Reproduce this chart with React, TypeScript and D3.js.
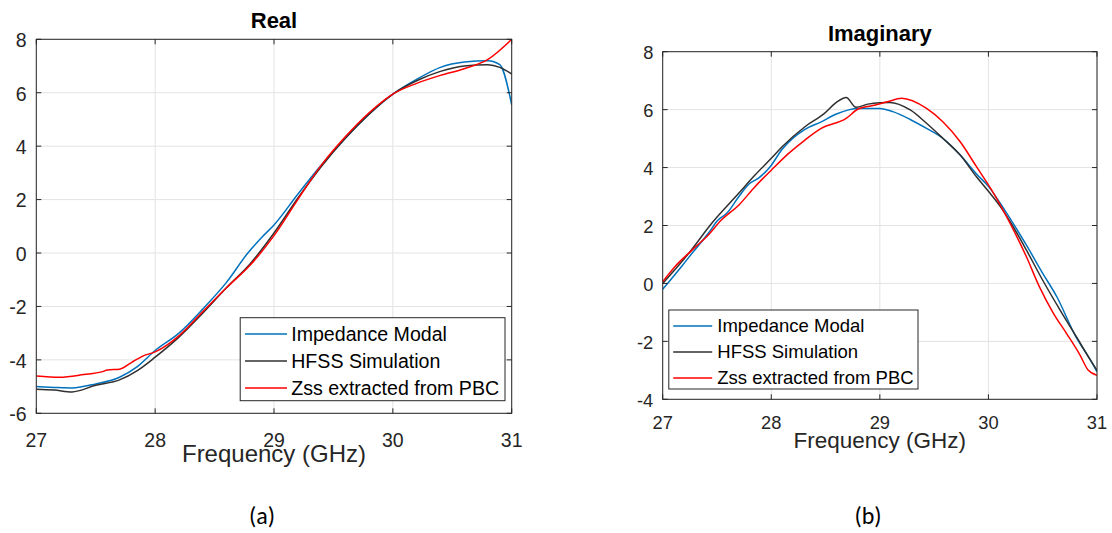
import React from "react";
import * as d3 from "d3";

// ---------- data ----------
const xTicks = [27, 28, 29, 30, 31];
const realYTicks = [-6, -4, -2, 0, 2, 4, 6, 8];
const imagYTicks = [-4, -2, 0, 2, 4, 6, 8];
const seriesNames = ["Impedance Modal", "HFSS Simulation", "Zss extracted from PBC"];
const seriesColors = ["#0072BD", "#303030", "#FF0000"];

const realModal: [number, number][] = [
  [27.0, -5.0], [27.15, -5.03], [27.3, -5.05], [27.5, -4.9], [27.7, -4.65], [27.85, -4.25],
  [28.0, -3.65], [28.2, -3.0], [28.4, -2.1], [28.6, -1.1], [28.78, 0.0], [28.9, 0.6],
  [29.0, 1.05], [29.2, 2.2], [29.4, 3.3], [29.6, 4.3], [29.8, 5.2], [30.0, 5.95],
  [30.2, 6.5], [30.4, 6.95], [30.6, 7.15], [30.8, 7.2], [30.9, 7.05], [31.0, 5.55],
];
const realHfss: [number, number][] = [
  [27.0, -5.1], [27.15, -5.13], [27.3, -5.2], [27.5, -4.95], [27.7, -4.75], [27.85, -4.4],
  [28.0, -3.9], [28.2, -3.15], [28.4, -2.25], [28.6, -1.3], [28.8, -0.4], [29.0, 0.75],
  [29.2, 2.05], [29.4, 3.25], [29.6, 4.3], [29.8, 5.2], [30.0, 5.95], [30.2, 6.45],
  [30.4, 6.8], [30.6, 7.0], [30.8, 7.05], [30.9, 6.95], [31.0, 6.7],
];
const realZss: [number, number][] = [
  [27.0, -4.6], [27.2, -4.65], [27.4, -4.55], [27.55, -4.45], [27.6, -4.38], [27.7, -4.35],
  [27.8, -4.1], [27.9, -3.85], [28.0, -3.7], [28.2, -3.1], [28.4, -2.2], [28.6, -1.3],
  [28.8, -0.45], [29.0, 0.65], [29.2, 2.0], [29.4, 3.3], [29.6, 4.35], [29.8, 5.25],
  [30.0, 5.95], [30.2, 6.35], [30.4, 6.65], [30.6, 6.9], [30.8, 7.25], [31.0, 8.0],
];

const imagModal: [number, number][] = [
  [27.0, -0.2], [27.17, 0.57], [27.27, 1.04], [27.42, 1.73], [27.51, 2.19], [27.59, 2.42],
  [27.7, 2.99], [27.8, 3.45], [27.88, 3.63], [27.99, 4.03], [28.1, 4.63], [28.31, 5.32],
  [28.46, 5.58], [28.6, 5.85], [28.8, 6.04], [29.0, 6.04], [29.12, 5.93], [29.28, 5.66],
  [29.43, 5.35], [29.58, 5.01], [29.74, 4.43], [29.89, 3.78], [30.0, 3.35], [30.15, 2.53],
  [30.35, 1.32], [30.5, 0.35], [30.63, -0.46], [30.8, -1.8], [30.94, -2.65], [31.0, -3.05],
];
const imagHfss: [number, number][] = [
  [27.0, 0.0], [27.24, 1.04], [27.45, 2.07], [27.7, 3.11], [27.85, 3.74], [28.0, 4.32],
  [28.1, 4.72], [28.31, 5.41], [28.49, 5.87], [28.6, 6.25], [28.69, 6.42], [28.78, 6.08],
  [28.89, 6.19], [29.0, 6.24], [29.09, 6.25], [29.28, 5.99], [29.43, 5.53], [29.58, 5.01],
  [29.74, 4.43], [29.89, 3.68], [30.0, 3.18], [30.11, 2.65], [30.2, 2.13], [30.35, 1.15],
  [30.5, 0.11], [30.66, -0.92], [30.81, -1.84], [30.94, -2.65], [31.0, -3.0],
];
const imagZss: [number, number][] = [
  [27.0, 0.06], [27.11, 0.57], [27.27, 1.15], [27.42, 1.67], [27.54, 2.19], [27.7, 2.7],
  [27.85, 3.34], [28.0, 3.91], [28.16, 4.49], [28.31, 4.95], [28.46, 5.35], [28.69, 5.7],
  [28.8, 6.02], [28.96, 6.16], [29.07, 6.27], [29.2, 6.39], [29.43, 6.04], [29.58, 5.58],
  [29.74, 4.89], [29.89, 4.03], [30.03, 3.22], [30.2, 2.07], [30.35, 0.92], [30.47, -0.12],
  [30.6, -1.04], [30.72, -1.73], [30.84, -2.45], [30.92, -3.0], [31.0, -3.17],
];

// ---------- panel ----------
type PanelProps = {
  left: number; right: number; top: number; bottom: number;
  yDomain: [number, number]; yTicks: number[];
  series: [number, number][][];
  title: string; titleY: number;
  tickFont: number; xTickY: number; yTickX: number;
  labelFont: number; labelY: number;
  legend: { x: number; y: number; w: number; h: number; rowY: number[]; font: number; lineX1: number; lineX2: number; textX: number };
};

function Panel(p: PanelProps) {
  const x = d3.scaleLinear().domain([27, 31]).range([p.left, p.right]);
  const y = d3.scaleLinear().domain(p.yDomain).range([p.bottom, p.top]);
  const line = d3.line<[number, number]>().x(d => x(d[0])).y(d => y(d[1])).curve(d3.curveMonotoneX);
  const axisColor = "#262626";
  const cx = (p.left + p.right) / 2;
  const tl = 5;
  return (
    <g fontFamily="'Liberation Sans', Arial, Helvetica, sans-serif">
      {xTicks.map(t => (
        <line key={"gx" + t} x1={x(t)} x2={x(t)} y1={p.top} y2={p.bottom} stroke="#e3e3e3" strokeWidth={1} />
      ))}
      {p.yTicks.map(t => (
        <line key={"gy" + t} x1={p.left} x2={p.right} y1={y(t)} y2={y(t)} stroke="#e3e3e3" strokeWidth={1} />
      ))}
      <clipPath id={"clip" + p.title}>
        <rect x={p.left} y={p.top - 2} width={p.right - p.left} height={p.bottom - p.top + 4} />
      </clipPath>
      <g clipPath={`url(#clip${p.title})`}>
        {p.series.map((s, i) => (
          <path key={i} d={line(s) || ""} fill="none" stroke={seriesColors[i]} strokeWidth={1.5} />
        ))}
      </g>
      <rect x={p.left} y={p.top} width={p.right - p.left} height={p.bottom - p.top} fill="none" stroke={axisColor} strokeWidth={1} />
      {xTicks.map(t => (
        <g key={"tx" + t}>
          <line x1={x(t)} x2={x(t)} y1={p.bottom} y2={p.bottom - tl} stroke={axisColor} />
          <line x1={x(t)} x2={x(t)} y1={p.top} y2={p.top + tl} stroke={axisColor} />
          <text x={x(t)} y={p.xTickY} textAnchor="middle" fontSize={p.tickFont} fill={axisColor}>{t}</text>
        </g>
      ))}
      {p.yTicks.map(t => (
        <g key={"ty" + t}>
          <line x1={p.left} x2={p.left + tl} y1={y(t)} y2={y(t)} stroke={axisColor} />
          <line x1={p.right} x2={p.right - tl} y1={y(t)} y2={y(t)} stroke={axisColor} />
          <text x={p.yTickX} y={y(t)} dy="0.4em" textAnchor="end" fontSize={p.tickFont} fill={axisColor}>{t}</text>
        </g>
      ))}
      <text x={cx} y={p.titleY} textAnchor="middle" fontSize={22} fontWeight="bold" fill="#000">{p.title}</text>
      <text x={cx} y={p.labelY} textAnchor="middle" fontSize={p.labelFont} fill={axisColor}>Frequency (GHz)</text>
      <rect x={p.legend.x} y={p.legend.y} width={p.legend.w} height={p.legend.h} fill="#fff" stroke={axisColor} strokeWidth={1} />
      {seriesNames.map((n, i) => (
        <g key={n}>
          <line x1={p.legend.lineX1} x2={p.legend.lineX2} y1={p.legend.rowY[i]} y2={p.legend.rowY[i]} stroke={seriesColors[i]} strokeWidth={1.5} />
          <text x={p.legend.textX} y={p.legend.rowY[i]} dy="0.35em" fontSize={p.legend.font} fill="#000">{n}</text>
        </g>
      ))}
    </g>
  );
}

export default function App() {
  return (
    <svg width={1112} height={533} style={{ position: "absolute", left: 0, top: 0, background: "#fff" }}>
      <rect width={1112} height={533} fill="#fff" />
      <Panel
        left={36.3} right={511.7} top={39.3} bottom={413.3}
        yDomain={[-6, 8]} yTicks={realYTicks}
        series={[realModal, realHfss, realZss]}
        title="Real" titleY={28}
        tickFont={19.5} xTickY={447.3} yTickX={26.5}
        labelFont={24} labelY={462}
        legend={{ x: 240.2, y: 317.7, w: 264.8, h: 83, rowY: [334, 361, 388], font: 19.6, lineX1: 245, lineX2: 287, textX: 291.2 }}
      />
      <Panel
        left={662.7} right={1097} top={51.7} bottom={399.3}
        yDomain={[-4, 8]} yTicks={imagYTicks}
        series={[imagModal, imagHfss, imagZss]}
        title="Imaginary" titleY={41}
        tickFont={18.3} xTickY={429.3} yTickX={653.3}
        labelFont={22.5} labelY={448}
        legend={{ x: 668.8, y: 310, w: 249.2, h: 79, rowY: [326, 352, 378], font: 18.5, lineX1: 673.2, lineX2: 712.2, textX: 717.3 }}
      />
      <text x={262} y={524} textAnchor="middle" fontSize={24} fontFamily="Carlito, 'Liberation Sans Narrow', 'Open Sans', sans-serif" fill="#000">(a)</text>
      <text x={868} y={524} textAnchor="middle" fontSize={24} fontFamily="Carlito, 'Liberation Sans Narrow', 'Open Sans', sans-serif" fill="#000">(b)</text>
    </svg>
  );
}
